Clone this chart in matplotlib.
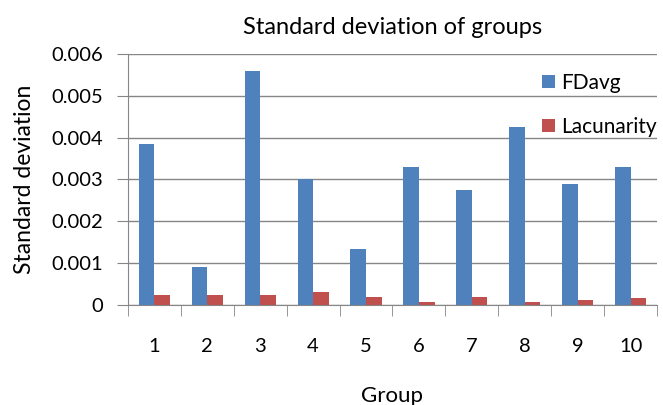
import matplotlib
matplotlib.use("Agg")
import matplotlib.pyplot as plt
import numpy as np

matplotlib.rcParams['font.family'] = ['Lato', 'DejaVu Sans']

groups = ["1", "2", "3", "4", "5", "6", "7", "8", "9", "10"]
fdavg = [0.00385, 0.0009, 0.0056, 0.0030, 0.00133, 0.0033, 0.00275, 0.00425, 0.0029, 0.0033]
lacunarity = [0.00025, 0.00025, 0.00025, 0.0003, 0.0002, 0.00007, 0.0002, 0.00007, 0.00012, 0.00016]
yticks = [0, 0.001, 0.002, 0.003, 0.004, 0.005, 0.006]
ylabels = ["0", "0.001", "0.002", "0.003", "0.004", "0.005", "0.006"]

fig = plt.figure(figsize=(6.63, 4.05), dpi=100)
ax = fig.add_axes([0.193, 0.247, 0.798, 0.62])

x = np.arange(len(groups))
barwidth = 0.295
ax.bar(x - barwidth / 2, fdavg, width=barwidth, color="#4f81bd", label="FDavg", zorder=2)
ax.bar(x + barwidth / 2, lacunarity, width=barwidth, color="#c0504d", label="Lacunarity", zorder=2)

ax.set_xlim(-0.5, len(groups) - 0.5)
ax.set_ylim(0, 0.006)
ax.set_yticks(yticks)
ax.set_yticklabels(ylabels)
ax.set_xticks(x)
ax.set_xticklabels(groups)
ax.set_xticks(np.arange(-0.5, len(groups)), minor=True)
ax.tick_params(axis="x", which="major", length=0, pad=24, labelsize=14.5)
ax.tick_params(axis="x", which="minor", length=8, color="#868686", direction="out")
ax.tick_params(axis="y", length=8, color="#868686", labelsize=14.5, pad=10)
ax.grid(True, axis="y", color="#868686", lw=1, zorder=0)
for s in ["top", "right"]:
    ax.spines[s].set_visible(False)
for s in ["left", "bottom"]:
    ax.spines[s].set_color("#868686")

ax.set_title("Standard deviation of groups", fontsize=17, pad=14)
ax.set_xlabel("Group", fontsize=16, labelpad=22)
ax.set_ylabel("Standard deviation", fontsize=16.5, labelpad=12)

fig.legend(loc="upper left", bbox_to_anchor=(0.818, 0.82), frameon=False, fontsize=15,
           handlelength=0.6, handleheight=0.6, handletextpad=0.3, labelspacing=1.15,
           borderaxespad=0, borderpad=0)

fig.savefig("out.png", dpi=100)
plt.close(fig)
